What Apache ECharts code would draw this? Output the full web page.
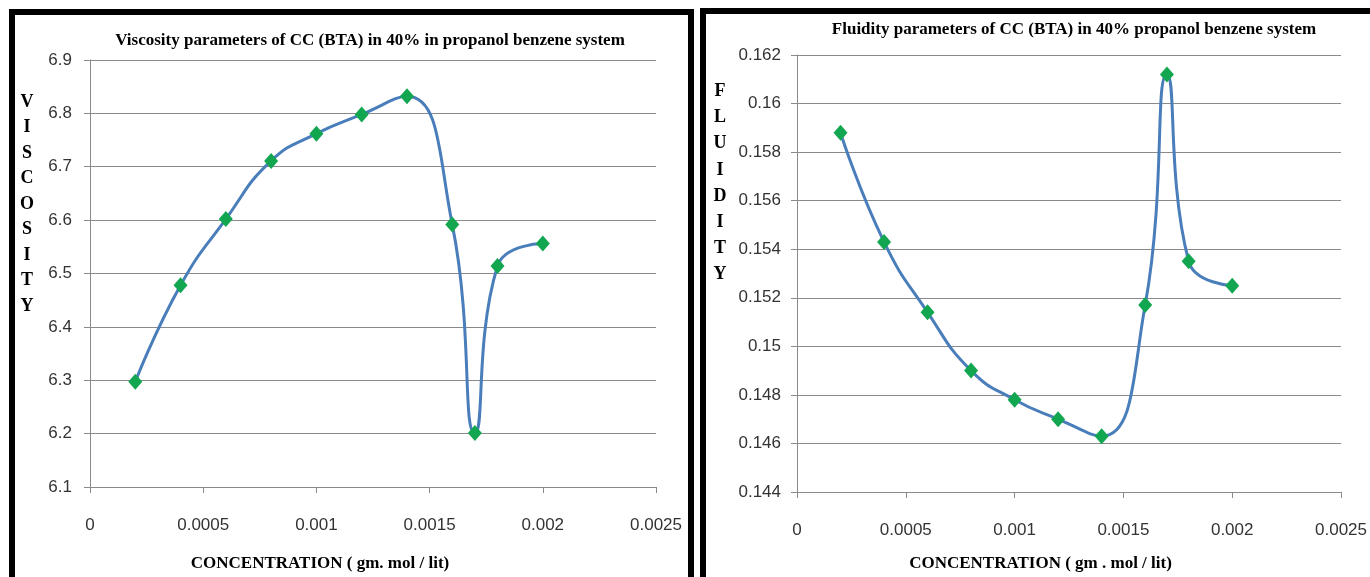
<!DOCTYPE html>
<html>
<head>
<meta charset="utf-8">
<script src="https://cdn.jsdelivr.net/npm/echarts@6/dist/echarts.min.js"></script>
<style>
html,body{margin:0;padding:0;background:#fff;}
#chart{width:1370px;height:577px;}
</style>
</head>
<body>
<div id="chart"></div>
<script>
// ---- data ----
const concentration = [0.0002, 0.0004, 0.0006, 0.0008, 0.001, 0.0012, 0.0014, 0.0016, 0.0017, 0.0018, 0.002];
const viscosity = [6.297, 6.478, 6.602, 6.711, 6.762, 6.798, 6.832, 6.592, 6.201, 6.514, 6.556];
const fluidity = [0.1588, 0.1543, 0.1514, 0.1490, 0.1478, 0.1470, 0.1463, 0.1517, 0.1612, 0.1535, 0.1525];
const xTicks = [0, 0.0005, 0.001, 0.0015, 0.002, 0.0025];
const viscosityTicks = [6.1, 6.2, 6.3, 6.4, 6.5, 6.6, 6.7, 6.8, 6.9];
const fluidityTicks = [0.144, 0.146, 0.148, 0.15, 0.152, 0.154, 0.156, 0.158, 0.16, 0.162];
const titleLeft = 'Viscosity parameters of CC (BTA) in 40% in propanol benzene system';
const titleRight = 'Fluidity parameters of CC (BTA) in 40% propanol benzene system';
const xNameLeft = 'CONCENTRATION ( gm. mol / lit)';
const xNameRight = 'CONCENTRATION ( gm . mol / lit)';
const yNameLeft = 'VISCOSITY';
const yNameRight = 'FLUIDITY';

// ---- styles ----
const gridColor = '#8a8a8a';
const labelColor = '#333333';
const lineColor = '#4A7EBB';
const markerColor = '#12A650';
const tickFont = 'Liberation Sans';
const serif = 'Liberation Serif';

function fmt(v, d) { return String(parseFloat(v.toFixed(d))); }

function xAxisCfg(gridIndex, name, padRight, gap) {
  return {
    type: 'value', gridIndex: gridIndex,
    min: xTicks[0], max: xTicks[xTicks.length - 1], interval: xTicks[1] - xTicks[0],
    name: name, nameLocation: 'middle', nameGap: gap,
    nameTextStyle: { fontFamily: serif, fontWeight: 'bold', fontSize: 17, color: '#000', padding: [0, padRight, 0, 0] },
    axisLine: { show: true, lineStyle: { color: gridColor, width: 1 } },
    axisTick: { show: true, length: 6, lineStyle: { color: gridColor } },
    splitLine: { show: false },
    axisLabel: { margin: 30, fontFamily: tickFont, fontSize: 17, color: labelColor,
      formatter: function (v) { return fmt(v, 4); } }
  };
}
function yAxisCfg(gridIndex, ticks, dec, margin) {
  return {
    type: 'value', gridIndex: gridIndex,
    min: ticks[0], max: ticks[ticks.length - 1], interval: ticks[1] - ticks[0],
    axisLine: { show: true, lineStyle: { color: gridColor, width: 1 } },
    axisTick: { show: true, length: 6, lineStyle: { color: gridColor } },
    splitLine: { show: true, lineStyle: { color: gridColor, width: 1 } },
    axisLabel: { margin: margin, fontFamily: tickFont, fontSize: 17, color: labelColor,
      formatter: function (v) { return fmt(v, dec); } }
  };
}
function seriesCfg(idx, values) {
  return {
    type: 'line', xAxisIndex: idx, yAxisIndex: idx,
    data: concentration.map(function (c, i) { return [c, values[i]]; }),
    smooth: 0.5,
    symbol: 'diamond', symbolSize: [14, 16],
    itemStyle: { color: markerColor },
    lineStyle: { color: lineColor, width: 3 },
    z: 3
  };
}

const chart = echarts.init(document.getElementById('chart'), null, { renderer: 'canvas' });
chart.setOption({
  animation: false,
  backgroundColor: '#fff',
  title: [
    { text: titleLeft, left: 365, top: 27, textAlign: 'center',
      textStyle: { fontFamily: serif, fontWeight: 'bold', fontSize: 17, color: '#000' } },
    { text: titleRight, left: 1069, top: 16, textAlign: 'center',
      textStyle: { fontFamily: serif, fontWeight: 'bold', fontSize: 17, color: '#000' } }
  ],
  grid: [
    { left: 90, top: 60, width: 566, height: 427, containLabel: false },
    { left: 797, top: 55, width: 545, height: 440, containLabel: false }
  ],
  xAxis: [xAxisCfg(0, xNameLeft, 106, 68), xAxisCfg(1, xNameRight, 57, 63)],
  yAxis: [yAxisCfg(0, viscosityTicks, 1, 18), yAxisCfg(1, fluidityTicks, 3, 16)],
  series: [seriesCfg(0, viscosity), seriesCfg(1, fluidity)],
  graphic: [
    { type: 'rect', shape: { x: 12, y: 12, width: 679, height: 620 },
      style: { fill: null, stroke: '#000', lineWidth: 6 }, z: 10 },
    { type: 'rect', shape: { x: 703, y: 11, width: 700, height: 620 },
      style: { fill: null, stroke: '#000', lineWidth: 6 }, z: 10 },
    { type: 'text', x: 27, y: 204,
      style: { text: yNameLeft.split('').join('\n'), fill: '#000', align: 'center', verticalAlign: 'middle',
        font: 'bold 18px "Liberation Serif"', lineHeight: 25.5 }, z: 10 },
    { type: 'text', x: 720, y: 183,
      style: { text: yNameRight.split('').join('\n'), fill: '#000', align: 'center', verticalAlign: 'middle',
        font: 'bold 18px "Liberation Serif"', lineHeight: 26.2 }, z: 10 }
  ]
});
</script>
</body>
</html>
